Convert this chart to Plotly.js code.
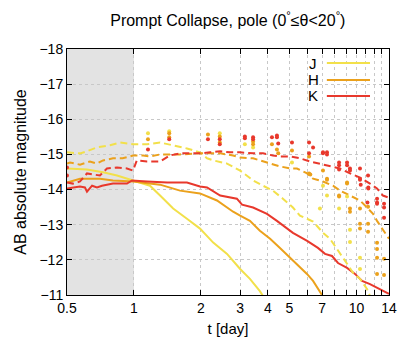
<!DOCTYPE html>
<html>
<head>
<meta charset="utf-8">
<script src="https://cdn.plot.ly/plotly-3.0.1.min.js"></script>
<style>
  html, body { margin: 0; padding: 0; background: #fff; }
  #plot { width: 415px; height: 346px; }
</style>
</head>
<body>
<div id="plot"></div>
<script>
// Solid lines (model curves)
const tJ = [0.5, 0.615, 0.726, 0.839, 0.99, 1.18, 1.31, 1.50, 1.73, 1.98, 2.27, 2.62, 3.0, 3.32, 3.68, 3.8];
const magJ = [-14.60, -14.57, -14.49, -14.40, -14.26, -14.11, -13.83, -13.46, -13.17, -12.89, -12.49, -12.17, -11.74, -11.46, -11.11, -10.97];

const tH = [0.5, 0.572, 0.703, 0.805, 0.99, 1.31, 1.61, 1.98, 2.36, 2.79, 3.0, 3.32, 3.68, 4.09, 4.53, 5.03, 5.57, 5.99, 6.38, 6.71, 7.0];
const magH = [-14.20, -14.31, -14.31, -14.26, -14.23, -14.14, -13.97, -13.89, -13.69, -13.37, -13.26, -13.11, -12.83, -12.60, -12.34, -12.06, -11.77, -11.60, -11.40, -11.20, -11.0];

const tK = [0.5, 0.572, 0.602, 0.615, 0.648, 0.682, 0.718, 0.805, 0.93, 0.98, 1.144, 1.41, 1.73, 1.98, 2.13, 2.44, 2.9, 3.06, 3.43, 3.96, 4.39, 4.87, 5.18, 6.0, 6.71, 7.22, 7.76, 8.26, 9.07, 9.85, 10.6, 11.5, 12.4, 13.15, 14.0];
const magK = [-14.03, -14.09, -14.06, -13.94, -14.11, -14.06, -14.11, -14.17, -14.17, -14.26, -14.23, -14.20, -14.20, -14.09, -14.06, -13.83, -13.74, -13.57, -13.49, -13.31, -13.11, -12.89, -12.77, -12.54, -12.34, -12.17, -12.11, -11.91, -11.77, -11.60, -11.40, -11.31, -11.20, -11.11, -11.03];

// Dashed lines
const tJd = [0.5, 0.572, 0.615, 0.682, 0.78, 0.865, 0.99, 1.144, 1.31, 1.5, 1.73, 1.98, 2.13, 2.27, 2.62, 3.0, 3.43, 3.8, 4.21, 4.67, 5.18, 5.57, 6.38, 7.07, 7.6, 8.17, 8.61, 9.07, 9.65, 10.37, 11.15, 11.5];
const magJd = [-15.06, -15.03, -15.09, -15.20, -15.26, -15.34, -15.29, -15.29, -15.34, -15.26, -15.17, -15.06, -14.89, -14.83, -14.74, -14.54, -14.26, -14.11, -13.97, -13.74, -13.49, -13.26, -13.09, -12.77, -12.60, -12.31, -12.11, -11.89, -11.63, -11.46, -11.17, -10.97];

const tHd = [0.5, 0.516, 0.572, 0.634, 0.682, 0.726, 0.805, 0.89, 0.99, 1.1, 1.18, 1.31, 1.61, 1.98, 2.44, 2.79, 3.0, 3.43, 3.96, 4.53, 5.03, 5.4, 6.0, 6.38, 7.07, 7.84, 8.43, 9.35, 10.37, 11.15, 11.87, 12.37, 13.0, 14.0];
const magHd = [-14.74, -14.77, -14.71, -14.80, -14.74, -14.83, -14.89, -14.89, -14.97, -14.97, -14.94, -15.0, -15.0, -15.03, -15.03, -14.97, -14.91, -14.89, -14.77, -14.66, -14.60, -14.60, -14.46, -14.31, -14.23, -14.11, -13.97, -13.83, -13.69, -13.49, -13.31, -13.11, -12.89, -12.60];

const tKd = [0.5, 0.532, 0.572, 0.615, 0.654, 0.703, 0.756, 0.839, 0.93, 0.99, 1.03, 1.144, 1.31, 1.45, 1.61, 1.98, 2.2, 2.44, 2.7, 3.0, 3.43, 3.8, 4.21, 4.53, 5.03, 5.57, 6.18, 6.85, 7.6, 8.43, 9.35, 10.37, 11.5, 12.37, 13.15, 14.0];
const magKd = [-14.20, -14.17, -14.23, -14.46, -14.43, -14.40, -14.60, -14.63, -14.60, -14.54, -14.83, -14.80, -14.80, -14.97, -15.03, -15.03, -15.06, -15.09, -15.06, -15.06, -15.03, -15.03, -14.97, -14.94, -14.94, -14.89, -14.80, -14.74, -14.66, -14.60, -14.46, -14.34, -14.17, -14.03, -13.83, -13.77];

// Observed points
const obsTJ = [1.156, 1.44, 2.43, 3.15, 3.43, 5.13, 7.07, 7.37, 6.85, 8.35, 9.07, 9.35, 9.35, 10.37, 10.37];
const obsMagJ = [-15.60, -15.66, -15.60, -15.29, -15.20, -14.77, -14.11, -13.83, -13.46, -13.46, -13.80, -12.86, -12.51, -12.06, -11.74];

const obsTH = [1.156, 1.44, 1.44, 2.15, 2.43, 2.43, 3.43, 3.43, 4.17, 4.39, 4.45, 5.13, 6.12, 6.12, 6.2, 7.07, 7.37, 7.37, 8.35, 8.35, 9.07, 9.07, 9.35, 9.35, 10.37, 10.37, 10.37, 11.27, 11.27, 11.27, 12.37, 12.37, 12.37, 12.37, 13.3, 13.3];
const obsMagH = [-15.43, -15.60, -15.49, -15.57, -15.51, -15.34, -15.37, -15.29, -15.29, -15.14, -15.03, -15.11, -14.94, -14.46, -14.43, -14.54, -14.31, -14.28, -13.83, -13.80, -14.20, -14.17, -13.46, -13.37, -13.46, -13.03, -12.89, -13.51, -13.03, -12.80, -12.49, -12.31, -12.06, -11.60, -12.03, -11.57];

const obsTK = [0.5, 0.5, 1.156, 1.44, 2.15, 2.43, 2.43, 3.15, 3.15, 3.43, 3.43, 4.17, 4.39, 4.39, 4.45, 5.13, 6.12, 6.38, 6.12, 7.07, 7.07, 7.37, 7.37, 8.35, 8.35, 8.35, 9.07, 9.07, 9.35, 9.35, 10.37, 10.37, 10.37, 10.45, 11.27, 11.3, 11.3, 11.2, 12.37, 12.37, 12.37, 13.3, 13.3, 13.3];
const obsMagK = [-14.63, -14.40, -15.14, -15.43, -15.43, -15.43, -15.29, -15.51, -15.46, -15.49, -15.43, -15.49, -15.54, -15.49, -15.31, -15.34, -15.34, -15.20, -15.03, -15.06, -15.03, -15.06, -15.00, -14.77, -14.69, -14.57, -14.77, -14.69, -14.60, -14.54, -14.60, -14.31, -14.28, -14.14, -14.40, -14.06, -14.03, -13.63, -13.74, -13.63, -13.60, -13.60, -13.49, -13.20];

const bandNames = ['J', 'H', 'K'];
const bandColors = ['#f2e04a', '#eba11c', '#e8382c'];

const xTickVals = [0.5, 1, 2, 3, 4, 5, 6, 7, 8, 9, 10, 11, 12, 13, 14];
const xTickText = ['0.5', '1', '2', '3', '4', '5', ' ', '7', ' ', ' ', '10', ' ', ' ', ' ', '14'];
const yTickVals = [-18, -17, -16, -15, -14, -13, -12, -11];

function lineTrace(x, y, color, dash) {
    return {
        x: x, y: y,
        type: 'scatter',
        mode: 'lines',
        line: { color: color, width: 2, dash: dash },
        showlegend: false,
        hoverinfo: 'skip'
    };
}

function pointTrace(x, y, color) {
    return {
        x: x, y: y,
        type: 'scatter',
        mode: 'markers',
        marker: { color: color, size: 4 },
        showlegend: false,
        hoverinfo: 'skip'
    };
}

const data = [
    lineTrace(tJ, magJ, bandColors[0], 'solid'),
    lineTrace(tH, magH, bandColors[1], 'solid'),
    lineTrace(tK, magK, bandColors[2], 'solid'),
    lineTrace(tJd, magJd, bandColors[0], '7px,4px'),
    lineTrace(tHd, magHd, bandColors[1], '7px,4px'),
    lineTrace(tKd, magKd, bandColors[2], '7px,4px'),
    pointTrace(obsTJ, obsMagJ, bandColors[0]),
    pointTrace(obsTH, obsMagH, bandColors[1]),
    pointTrace(obsTK, obsMagK, bandColors[2])
];

// gnuplot-like key: letter, then a line sample
const keyY = [0.943, 0.874, 0.809];
const shapes = [{
    type: 'rect', xref: 'x', yref: 'paper',
    x0: 0.5, x1: 1, y0: 0, y1: 1,
    fillcolor: '#e3e3e3', line: { width: 0 }, layer: 'below'
}];
const annotations = [];
bandNames.forEach((name, i) => {
    shapes.push({
        type: 'line', xref: 'paper', yref: 'paper',
        x0: 0.807, x1: 0.941, y0: keyY[i], y1: keyY[i],
        line: { color: bandColors[i], width: 2 }
    });
    annotations.push({
        xref: 'paper', yref: 'paper', x: 0.764, y: keyY[i],
        text: name, showarrow: false,
        font: { size: 15, color: '#000' },
        xanchor: 'center', yanchor: 'middle'
    });
});

const fam = 'Liberation Sans, Arial, sans-serif';
const tickFont = { family: fam, size: 14, color: '#000' };
const titleFont = { family: fam, size: 16, color: '#000' };

const layout = {
    width: 415, height: 346,
    margin: { l: 67, r: 26, t: 49, b: 51 },
    paper_bgcolor: '#fff',
    plot_bgcolor: '#fff',
    font: tickFont,
    title: {
        text: 'Prompt Collapse, pole (0<sup>°</sup>≤θ&lt;20<sup>°</sup>)',
        x: 0.549, xanchor: 'center',
        y: 0.942, yanchor: 'middle',
        font: titleFont
    },
    xaxis: {
        type: 'log',
        range: [Math.log10(0.5), Math.log10(14)],
        tickvals: xTickVals,
        ticktext: xTickText,
        tickangle: 0,
        ticks: 'inside', ticklen: 5, tickcolor: '#000',
        mirror: 'allticks', showline: true, linecolor: '#000', linewidth: 1,
        showgrid: true, gridcolor: '#c8c8c8', griddash: 'dot', gridwidth: 1,
        zeroline: false,
        tickfont: tickFont,
        title: { text: 't [day]', font: { family: fam, size: 15, color: '#000' }, standoff: 8 }
    },
    yaxis: {
        range: [-11, -18],
        tickvals: yTickVals,
        ticks: 'inside', ticklen: 5, tickcolor: '#000',
        mirror: 'allticks', showline: true, linecolor: '#000', linewidth: 1,
        showgrid: true, gridcolor: '#c8c8c8', griddash: 'dot', gridwidth: 1,
        zeroline: false,
        tickfont: tickFont,
        title: { text: 'AB absolute magnitude', font: titleFont, standoff: 8 }
    },
    shapes: shapes,
    annotations: annotations,
    showlegend: false
};

Plotly.newPlot('plot', data, layout, { staticPlot: true, displayModeBar: false });
</script>
</body>
</html>
